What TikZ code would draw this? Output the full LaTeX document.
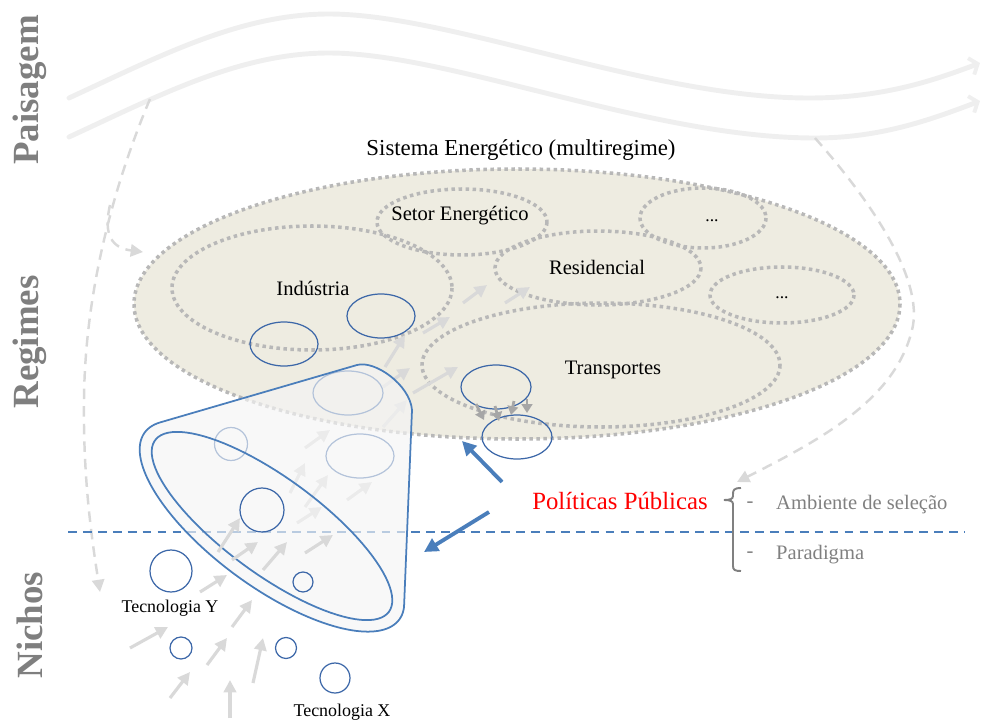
\documentclass[tikz,border=0pt]{standalone}
\usepackage{fontspec}
\setmainfont{Liberation Serif}
\usetikzlibrary{arrows.meta}
\definecolor{beige}{HTML}{EEECE1}
\definecolor{dotgray}{HTML}{B8B8B8}
\definecolor{wavegray}{HTML}{EFEFEF}
\definecolor{dashgray}{HTML}{D9D9D9}
\definecolor{flowgray}{HTML}{D9D9D9}
\definecolor{darkflow}{HTML}{A6A6A6}
\definecolor{blueln}{HTML}{4A7EBB}
\definecolor{bluecirc}{HTML}{3C67A8}
\definecolor{sidegray}{HTML}{7F7F7F}
\definecolor{notegray}{HTML}{808080}
\definecolor{funnelfill}{HTML}{F5F5F5}

\tikzset{
  wave/.style={draw=wavegray, line width=2.8pt, line cap=round,
    -{Straight Barb[length=4pt,width=10pt,line width=2.2pt]}},
  influence/.style={draw=dashgray, line width=1.4pt, dash pattern=on 6pt off 4pt,
    -{Triangle[length=7pt,width=7pt]}},
  regime/.style={draw=dotgray, line width=2pt, dash pattern=on 2pt off 2pt},
  cell/.style={draw=bluecirc, line width=0.7pt},
  flowarrow/.style={draw=flowgray, line width=1.8pt, -{Triangle[length=7pt,width=7pt]}},
  pushdown/.style={draw=darkflow, line width=1.6pt, -{Triangle[length=5pt,width=6pt]}},
  policy/.style={draw=blueln, line width=2.2pt, -{Triangle[length=8pt,width=8pt]}},
  funnel/.style={draw=blueln, line width=1pt},
  levellabel/.style={font=\fontsize{21}{23}\selectfont\bfseries, text=sidegray, rotate=90},
  sector/.style={font=\fontsize{11.7}{13}\selectfont},
  tech/.style={font=\fontsize{10.2}{12}\selectfont},
  note/.style={font=\fontsize{11.7}{13}\selectfont, text=notegray},
}

\begin{document}
\begin{tikzpicture}[x=0.02cm, y=-0.02cm]
\useasboundingbox (0,0) rectangle (984,720);

% ---- landscape: two waves ----
\draw[wave] (69,98) .. controls (160,56) and (240,14) .. (329,14)
  .. controls (450,14) and (650,98) .. (809,98)
  .. controls (880,98) and (930,82) .. (980,63);
\draw[wave] (69,137) .. controls (160,95) and (240,53) .. (329,53)
  .. controls (450,53) and (650,138) .. (815,138)
  .. controls (880,138) and (930,120) .. (980,101);

% ---- landscape pressure (dashed) ----
\draw[influence] (150,99) .. controls (120,170) and (85,280) .. (84,400)
  .. controls (83,480) and (92,540) .. (100,592);
\draw[influence] (110,205) .. controls (103,235) and (112,248) .. (143,252);
\draw[influence] (815,138) .. controls (870,200) and (925,280) .. (912,330)
  .. controls (895,400) and (820,440) .. (737,482);

% ---- level labels ----
\node[levellabel] (paisagem) at (30,90) {Paisagem};
\node[levellabel] (regimes) at (30,342) {Regimes};
\node[levellabel] (nichos) at (30,625) {Nichos};

% ---- energy system (multiregime) ----
\node[font=\fontsize{13}{15}\selectfont] (sistema) at (521,150) {Sistema Energético (multiregime)};
\path[regime, fill=beige] (517,304) ellipse [x radius=383, y radius=135];
\draw[regime] (312,288) ellipse [x radius=140, y radius=62];
\draw[regime] (462,222) ellipse [x radius=85, y radius=33];
\draw[regime] (598,268) ellipse [x radius=103, y radius=37];
\draw[regime] (703,218) ellipse [x radius=63, y radius=30];
\draw[regime] (782,295) ellipse [x radius=72, y radius=28];
\draw[regime] (601,365) ellipse [x radius=179, y radius=62];

\node[sector] (industria) at (313,288) {Indústria};
\node[sector] (setor) at (460,216) {Setor Energético};
\node[sector] (residencial) at (597,267) {Residencial};
\node[sector] (transportes) at (613,370) {Transportes};
\node[font=\fontsize{10}{12}\selectfont] (outros1) at (712,221) {...};
\node[font=\fontsize{10}{12}\selectfont] (outros2) at (782,298) {...};

% technologies inside the regimes
\draw[cell] (284,344) ellipse [x radius=34, y radius=22];
\draw[cell] (381,316) ellipse [x radius=34, y radius=22];
\draw[cell] (496,387) ellipse [x radius=35, y radius=22];
\draw[cell] (517,437) ellipse [x radius=35, y radius=22];

% pressure between transport technologies
\draw[pushdown] (476,404) -- (484,420);
\draw[pushdown] (495,406) -- (499,421);
\draw[pushdown] (514,401) -- (511,415);
\draw[pushdown] (527,399) -- (527,413);

% flows rising towards the regimes (behind the funnel)
\foreach \ax/\ay/\bx/\by in {
  297/523/322/507, 290/493/305/463, 305/507/328/475, 347/500/372/482,
  305/448/330/430, 385/367/405/335, 383/387/410/368, 413/393/458/367,
  383/427/407/400, 423/333/450/317, 463/303/487/285, 505/303/530/287}
  \draw[flowarrow] (\ax,\ay) -- (\bx,\by);

% niche / regime boundary
\draw[blueln, line width=1pt, dash pattern=on 5pt off 3.5pt] (68,532) -- (965,532);

% technologies passing through the funnel
\draw[cell] (231,444) circle [radius=16.5];
\draw[cell] (348,393) ellipse [x radius=35, y radius=22];
\draw[cell] (360,456) ellipse [x radius=34, y radius=22];

% ---- funnel of selection ----
\path[fill=funnelfill, fill opacity=0.65]
  plot[domain=12:-196, samples=90, variable=\t]
    ({272+127.3*cos(\t)+36.1*sin(\t)},{526+93.5*cos(\t)-49.2*sin(\t)})
  -- (357,365) .. controls (375,360) and (410,385) .. (412,410) -- cycle;
\draw[funnel]
  plot[domain=12:-196, samples=90, variable=\t]
    ({272+127.3*cos(\t)+36.1*sin(\t)},{526+93.5*cos(\t)-49.2*sin(\t)})
  -- (357,365) .. controls (375,360) and (410,385) .. (412,410) -- cycle;
\draw[funnel]
  plot[domain=0:360, samples=100, variable=\t]
    ({272+116.9*cos(\t)+28.4*sin(\t)},{526+85.8*cos(\t)-38.7*sin(\t)}) -- cycle;

% niche technologies and flows
\draw[cell] (262,510) circle [radius=22];
\draw[cell] (303,582) circle [radius=10];
\draw[cell] (171,571) circle [radius=21];
\draw[cell] (181,648) circle [radius=11];
\draw[cell] (286,648) circle [radius=10.5];
\draw[cell] (335,678) circle [radius=15];

\foreach \ax/\ay/\bx/\by in {
  130/648/168/627, 170/698/190/672, 230/718/230/680, 207/665/227/638,
  253/683/263/638, 232/627/252/600, 200/592/227/575, 263/570/287/542,
  232/560/258/542, 218/552/240/518, 305/553/333/535}
  \draw[flowarrow] (\ax,\ay) -- (\bx,\by);

\node[tech] (tecY) at (170,608) {Tecnologia Y};
\node[tech] (tecX) at (342,712) {Tecnologia X};

% ---- public policies ----
\node[text=red, font=\fontsize{14.1}{16}\selectfont] (politicas) at (620,501) {Políticas Públicas};
\coordinate (upTail) at (502,482);
\coordinate (upTip) at (462,441);
\coordinate (downTail) at (489,512);
\coordinate (downTip) at (424,552);
\draw[policy] (upTail) -- (upTip);
\draw[policy] (downTail) -- (downTip);

\draw[notegray, line width=1.1pt]
  (741,488) .. controls (734,488) and (733,490) .. (733,494) -- (733,496)
  .. controls (733,499) and (730,500) .. (724,500)
  .. controls (730,500) and (733,501) .. (733,504) -- (733,566)
  .. controls (733,570) and (735,571) .. (741,571);
\node[note] (dash1) at (750,505) {-};
\node[note, anchor=west] (ambiente) at (770,505) {Ambiente de seleção};
\node[note] (dash2) at (750,555) {-};
\node[note, anchor=west] (paradigma) at (770,555) {Paradigma};
\end{tikzpicture}
\end{document}
